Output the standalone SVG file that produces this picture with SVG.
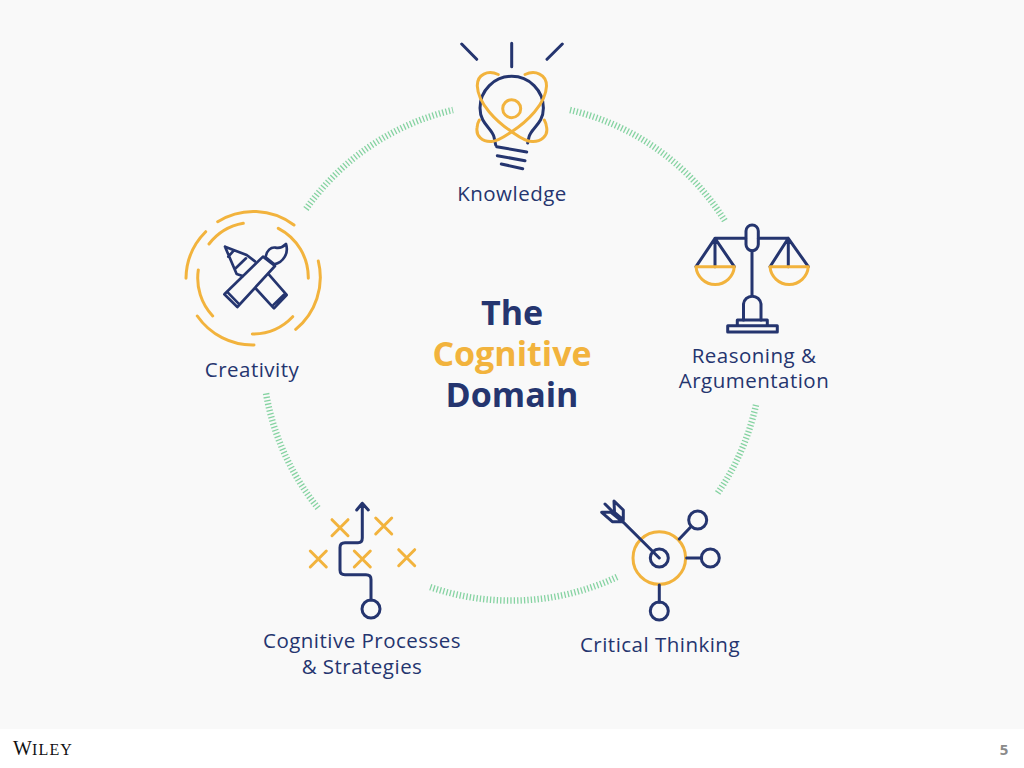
<svg xmlns="http://www.w3.org/2000/svg" width="1024" height="768" viewBox="0 0 1024 768">
<style>
.n{fill:none;stroke:#25356f;stroke-width:3;stroke-linecap:round;stroke-linejoin:round}
.y{fill:none;stroke:#f2b33d;stroke-width:3;stroke-linecap:round;stroke-linejoin:round}
.g{fill:none;stroke:#86d3a2;stroke-width:6.5;stroke-dasharray:1.3 2.1}
.l{font-family:"Open Sans",sans-serif;font-size:20.5px;letter-spacing:.48px;fill:#25356f;text-anchor:middle}
.t{font-family:"Open Sans",sans-serif;font-size:34px;font-weight:700;text-anchor:middle}
</style>
<rect width="1024" height="768" fill="#ffffff"/>
<rect width="1024" height="729" fill="#f9f9f9"/>
<g id="connectors">
<path class="g" d="M570 110A249 249 0 0 1 725 221"/>
<path class="g" d="M756 405A249 249 0 0 1 717 494"/>
<path class="g" d="M617 577A249 249 0 0 1 430 587"/>
<path class="g" d="M318 508A249 249 0 0 1 266 393"/>
<path class="g" d="M306 209A249 249 0 0 1 453 110"/>
</g>
<g id="center">
<text class="t" x="512" y="325" fill="#25356f">The</text>
<text class="t" x="512" y="366" fill="#f2b33d">Cognitive</text>
<text class="t" x="512" y="407" fill="#25356f">Domain</text>
</g>
<g id="knowledge">
<path class="n" d="M461.7 44L476.7 59.3M511.7 43.3V66.7M562.3 44L547 59.3"/>
<path class="n" d="M495.7 145L494 137C492 128 480 124 480 108A31.7 31.7 0 0 1 543.4 108C543.4 124 531 128 529 137L527.7 143"/>
<path class="n" d="M496.7 146.7L526.7 152M497.3 155.7L525 160.7M501.3 164L522.7 168.7"/>
<circle class="y" cx="511.7" cy="108.7" r="9"/>
<path class="y" d="M498.3 74.5C488 70 477 74 477.3 86C478 104 497 122 511.7 131.7C518 136 524 141 532 141.5C541 142 548 136 546.7 128C546.5 125 545.5 122 544.3 120"/>
<path class="y" d="M525 74.5C535 70 546.5 74 546.5 86C546 104 526.5 122 511.7 131.7C505 136 499 141 491.5 141.5C482 142 476 136 477 128C477.3 125 478 122 479.3 120"/>
<text class="l" x="512" y="201">Knowledge</text>
</g>
<g id="reasoning">
<path class="n" d="M745.7 238.3H715L696 266.7M715 238.3L734.3 266.7M715 238.3V266.7M758.3 238.3H788.3L770 266.7M788.3 238.3L808.3 266.7M788.3 238.3V266.7M752 250.7V295"/>
<path class="y" d="M696 266.7H734.3A19.2 19.2 0 0 1 696 266.7ZM770 266.7H808.3A19.2 19.2 0 0 1 770 266.7Z"/>
<rect class="n" x="746" y="225" width="12.3" height="25.7" rx="6.1"/>
<path class="n" d="M743.5 320V304A8.8 8.8 0 0 1 761 304V320"/>
<path class="n" d="M737.3 325.5V320H767.3V325.5"/>
<rect class="n" x="727.7" y="325.7" width="49.6" height="6.3"/>
<text class="l" x="754" y="363">Reasoning &amp;</text>
<text class="l" x="754" y="388">Argumentation</text>
</g>
<g id="critical-thinking">
<circle class="y" cx="659.3" cy="558" r="26.3"/>
<circle class="n" cx="659.3" cy="558" r="9"/>
<circle class="n" cx="697.7" cy="520" r="9"/>
<circle class="n" cx="710.3" cy="558" r="9"/>
<circle class="n" cx="659.3" cy="611" r="9"/>
<path class="n" d="M679.3 539L690 527.7M686.7 558H701.7M659.3 585V602.3M659.3 558L605 504"/>
<path class="n" d="M614 501L623.3 510V520L614.5 512.5ZM601.7 512.3H611L622.3 521.7H612.3Z"/>
<text class="l" x="660" y="652">Critical Thinking</text>
</g>
<g id="strategies">
<path class="y" d="M332 519.7L348 535.7M348 519.7L332 535.7M375.7 518L391.7 534M391.7 518L375.7 534M310.3 551L326.3 567M326.3 551L310.3 567M354.3 551L370.3 567M370.3 551L354.3 567M398.7 549.7L414.7 565.7M414.7 549.7L398.7 565.7"/>
<path class="n" d="M356.7 510L362.3 503.3L368.3 510M362.3 503.3V538C362.3 541 360.5 542.7 358 542.7H345C342 542.7 340 544.5 340 547.5V570C340 573 342 574.7 345 574.7H366C369 574.7 371 576.5 371 579.5V600"/>
<circle class="n" cx="371" cy="609" r="9"/>
<text class="l" x="362" y="648">Cognitive Processes</text>
<text class="l" x="362" y="674">&amp; Strategies</text>
</g>
<g id="creativity">
<path class="y" d="M217.7 221.7A67.3 67.3 0 0 1 294 225M205.7 231.7A67.3 67.3 0 0 0 186 278.3M197.3 316A67.3 67.3 0 0 0 254 345M295.7 329.3A67.3 67.3 0 0 0 318.3 261"/>
<path class="y" d="M209 244A55.5 55.5 0 0 1 243.3 223.3M198.3 270A55.5 55.5 0 0 0 212.7 316M252.3 334A55.5 55.5 0 0 0 292.7 316.7M278.3 228.3A55.5 55.5 0 0 1 308.3 278.3"/>
<g transform="translate(175 200) scale(.3333)">
<path class="n" style="stroke-width:8" d="M148 283L264 170L300 198L187 321ZM156 275L193 313"/>
<path class="n" style="stroke-width:8" d="M272 172C274 152 288 140 302 143C315 146 325 140 333 132C342 160 325 187 298 193Z"/>
<path class="n" style="stroke-width:8" d="M150 140L215 165L240 184M150 140L185 222L203 228M176 152L160 170M182 205L213 175"/>
<path class="n" style="stroke-width:8" d="M280 222L335 285L297 325L241 264M296 314L326 285"/>
</g>
<text class="l" x="252" y="377">Creativity</text>
</g>
<g id="footer">
<text x="13" y="755" font-family="Liberation Serif, serif" font-size="20" fill="#111"><tspan>W</tspan><tspan font-size="16" letter-spacing="1.2">ILEY</tspan></text>
<text x="1004" y="755" font-family="Open Sans, sans-serif" font-size="15" font-weight="700" fill="#8a8a8a" text-anchor="middle">5</text>
</g>
</svg>
